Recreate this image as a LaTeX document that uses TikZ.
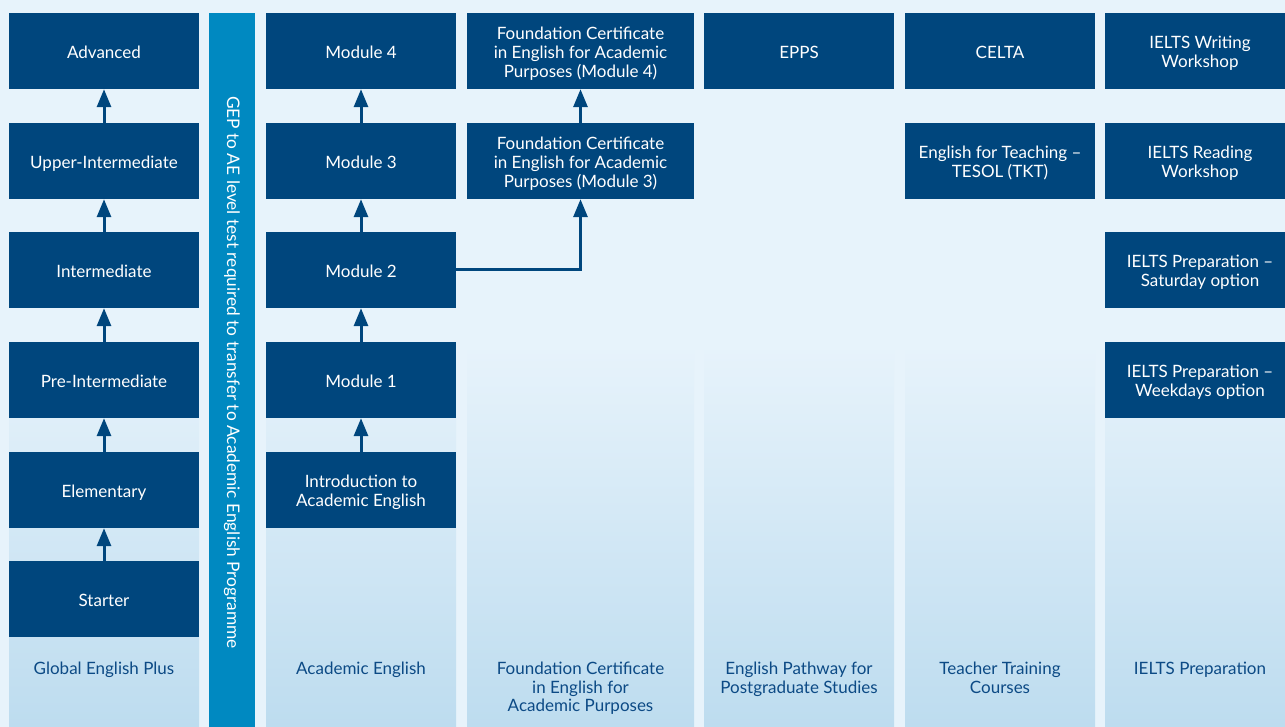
\documentclass[tikz,border=0pt]{standalone}
\usepackage{fontspec}
\setmainfont{Lato}
\usetikzlibrary{arrows.meta}
\definecolor{bg}{HTML}{E7F3FB}
\definecolor{dark}{HTML}{00467D}
\definecolor{bar}{HTML}{0089C1}
\definecolor{lab}{HTML}{0C4A85}
\definecolor{panelbot}{HTML}{BDDCEF}
\tikzset{
  box/.style={fill=dark, text=white, minimum width=190pt, minimum height=76pt, inner sep=0pt, align=center, font=\fontsize{17}{19}\selectfont, text height=14.4pt, text depth=0pt},
  boxtwo/.style={box, text height=33.4pt},
  boxthree/.style={box, minimum width=227pt, text height=52.4pt},
  panel/.style={top color=bg, bottom color=panelbot, draw=none},
  lbl/.style={text=lab, align=center, inner sep=0pt, anchor=north, font=\fontsize{17}{18.5}\selectfont},
  conn/.style={draw=dark, line width=3pt, -{Triangle[width=14pt,length=18pt]}},
}
\begin{document}
\begin{tikzpicture}[x=1pt,y=-1pt]
\clip (0,0) rectangle (1285,727);
\fill[bg] (0,0) rectangle (1285,727);
% panels
\shade[panel] (9,345) rectangle (199,727);
\shade[panel] (266,345) rectangle (456,727);
\shade[panel] (467,345) rectangle (694,727);
\shade[panel] (704,345) rectangle (894,727);
\shade[panel] (905,345) rectangle (1095,727);
\shade[panel] (1105,345) rectangle (1295,727);
% bar
\node[fill=bar, minimum width=46pt, minimum height=714pt, inner sep=0pt] (bar) at (232,370) {};
\node[rotate=-90, text=white, font=\fontsize{17.3}{19}\selectfont] (bartext) at (232,372.5) {GEP to AE level test required to transfer to Academic English Programme};
% column 1
\node[box] (g6) at (104,51) {Advanced};
\node[box] (g5) at (104,161) {Upper-Intermediate};
\node[box] (g4) at (104,270) {Intermediate};
\node[box] (g3) at (104,380) {Pre-Intermediate};
\node[box] (g2) at (104,490) {Elementary};
\node[box] (g1) at (104,599) {Starter};
% column 2
\node[box] (a4) at (361,51) {Module 4};
\node[box] (a3) at (361,161) {Module 3};
\node[box] (a2) at (361,270) {Module 2};
\node[box] (a1) at (361,380) {Module 1};
\node[boxtwo] (a0) at (361,490) {Introduction to\\Academic English};
% column 3
\node[boxthree] (f4) at (580.5,51) {Foundation Certificate\\in English for Academic\\Purposes (Module 4)};
\node[boxthree] (f3) at (580.5,161) {Foundation Certificate\\in English for Academic\\Purposes (Module 3)};
% column 4
\node[box] (epps) at (799,51) {EPPS};
% column 5
\node[box] (celta) at (1000,51) {CELTA};
\node[boxtwo] (tkt) at (1000,161) {English for Teaching –\\TESOL (TKT)};
% column 6
\node[boxtwo] (iw) at (1200,51) {IELTS Writing\\Workshop};
\node[boxtwo] (ir) at (1200,161) {IELTS Reading\\Workshop};
\node[boxtwo] (isat) at (1200,270) {IELTS Preparation –\\Saturday option};
\node[boxtwo] (iwk) at (1200,380) {IELTS Preparation –\\Weekdays option};
% labels
\node[lbl] (l1) at (104,662) {Global English Plus};
\node[lbl] (l2) at (361,662) {Academic English};
\node[lbl] (l3) at (580.5,662) {Foundation Certificate\\in English for\\Academic Purposes};
\node[lbl] (l4) at (799,662) {English Pathway for\\Postgraduate Studies};
\node[lbl] (l5) at (1000,662) {Teacher Training\\Courses};
\node[lbl] (l6) at (1200,662) {IELTS Preparation};
% connectors
\draw[conn] (g1) -- (g2);
\draw[conn] (g2) -- (g3);
\draw[conn] (g3) -- (g4);
\draw[conn] (g4) -- (g5);
\draw[conn] (g5) -- (g6);
\draw[conn] (a0) -- (a1);
\draw[conn] (a1) -- (a2);
\draw[conn] (a2) -- (a3);
\draw[conn] (a3) -- (a4);
\draw[conn] (f3) -- (f4);
\draw[conn] (a2.east) -| (f3.south);
\end{tikzpicture}
\end{document}
